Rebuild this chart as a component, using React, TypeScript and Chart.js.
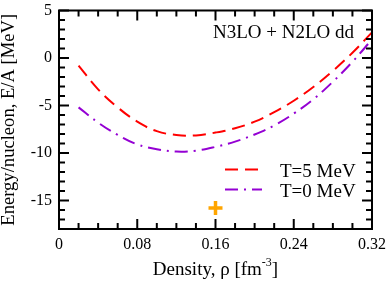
import React, { useEffect, useRef } from "react";
import { Chart, registerables } from "chart.js";
Chart.register(...registerables);

// ---- data ----
const densities = [0.02, 0.04, 0.06, 0.08, 0.1, 0.12, 0.14, 0.16, 0.18, 0.2, 0.22, 0.24, 0.26, 0.28, 0.3, 0.32];
const energyT5 = [-0.8, -3.3, -5.2, -6.7, -7.7, -8.1, -8.15, -7.85, -7.4, -6.7, -5.7, -4.5, -3.05, -1.35, 0.55, 2.7];
const energyT0 = [-5.2, -6.8, -8.1, -9.1, -9.6, -9.85, -9.75, -9.35, -8.8, -8.05, -7.1, -5.85, -4.35, -2.5, -0.4, 1.95];
const saturationDensity = [0.16];
const saturationEnergy = [-15.8];
const seriesLabels = ["T=5 MeV", "T=0 MeV"];
const annotationText = "N3LO + N2LO dd";
const xTickValues = [0, 0.08, 0.16, 0.24, 0.32];
const xTickLabels = ["0", "0.08", "0.16", "0.24", "0.32"];
const yTickValues = [5, 0, -5, -10, -15];
const yTickLabels = ["5", "0", "-5", "-10", "-15"];
const yTitle = "Energy/nucleon, E/A [MeV]";
const xTitleMain = "Density, \u03c1 [fm";
const xTitleSup = "-3";
const xTitleEnd = "]";

const X_MIN = 0, X_MAX = 0.32, X_MINOR = 0.02;
const Y_MIN = -18, Y_MAX = 5, Y_MINOR = 1;
const SERIF = '"Liberation Serif", "Times New Roman", serif';

const overlay = {
  id: "overlay",
  afterDraw(chart: any) {
    const { ctx, chartArea: a, scales } = chart;
    const xs = scales.x, ys = scales.y;
    ctx.save();
    ctx.strokeStyle = "#000";
    ctx.fillStyle = "#000";
    ctx.lineWidth = 2;
    ctx.setLineDash([]);
    const seg = (x1: number, y1: number, x2: number, y2: number) => {
      ctx.beginPath(); ctx.moveTo(x1, y1); ctx.lineTo(x2, y2); ctx.stroke();
    };
    // x ticks (inward, bottom & top)
    const nx = Math.round((X_MAX - X_MIN) / X_MINOR);
    for (let i = 0; i <= nx; i++) {
      const v = X_MIN + i * X_MINOR;
      const p = xs.getPixelForValue(v);
      const major = xTickValues.some((m) => Math.abs(m - v) < 1e-9);
      const len = major ? 10 : 6;
      seg(p, a.bottom, p, a.bottom - len);
      seg(p, a.top, p, a.top + len);
    }
    const ny = Math.round((Y_MAX - Y_MIN) / Y_MINOR);
    for (let i = 0; i <= ny; i++) {
      const v = Y_MIN + i * Y_MINOR;
      const p = ys.getPixelForValue(v);
      const major = yTickValues.some((m) => Math.abs(m - v) < 1e-9);
      const len = major ? 10 : 6;
      seg(a.left, p, a.left + len, p);
      seg(a.right, p, a.right - len, p);
    }
    ctx.strokeRect(a.left, a.top, a.right - a.left, a.bottom - a.top);

    // annotation
    ctx.font = `19px ${SERIF}`;
    ctx.textAlign = "left";
    ctx.textBaseline = "alphabetic";
    ctx.fillText(annotationText, a.right - 159, a.top + 27);

    // legend
    chart.data.datasets.slice(0, 2).forEach((ds: any, i: number) => {
      const y = a.top + 159 + i * 20;
      ctx.save();
      ctx.strokeStyle = ds.borderColor;
      ctx.lineWidth = 2;
      ctx.setLineDash(ds.borderDash || []);
      seg(a.right - 147, y, a.right - 110, y);
      ctx.restore();
      ctx.fillText(ds.label, a.right - 92, y + 7);
    });

    // y title
    ctx.save();
    ctx.font = `18.6px ${SERIF}`;
    ctx.translate(14, (a.top + a.bottom) / 2);
    ctx.rotate(-Math.PI / 2);
    ctx.textAlign = "center";
    ctx.fillText(yTitle, 0, 0);
    ctx.restore();

    // x title with superscript
    ctx.font = `19px ${SERIF}`;
    const w1 = ctx.measureText(xTitleMain).width;
    const w3 = ctx.measureText(xTitleEnd).width;
    ctx.font = `12px ${SERIF}`;
    const w2 = ctx.measureText(xTitleSup).width;
    const total = w1 + w2 + w3;
    let x = (a.left + a.right) / 2 - total / 2;
    const base = a.bottom + 46;
    ctx.textAlign = "left";
    ctx.font = `19px ${SERIF}`;
    ctx.fillText(xTitleMain, x, base);
    x += w1;
    ctx.font = `12px ${SERIF}`;
    ctx.fillText(xTitleSup, x, base - 9);
    x += w2;
    ctx.font = `19px ${SERIF}`;
    ctx.fillText(xTitleEnd, x, base);
    ctx.restore();
  },
};

export default function App() {
  const ref = useRef<HTMLCanvasElement>(null);
  useEffect(() => {
    document.body.style.margin = "0";
    const chart = new Chart(ref.current!, {
      type: "line",
      data: {
        datasets: [
          {
            label: seriesLabels[0],
            data: densities.map((d, i) => ({ x: d, y: energyT5[i] })),
            borderColor: "#ff0000",
            borderWidth: 2,
            borderDash: [13, 7],
            pointRadius: 0,
            tension: 0.4,
            fill: false,
          },
          {
            label: seriesLabels[1],
            data: densities.map((d, i) => ({ x: d, y: energyT0[i] })),
            borderColor: "#9400d3",
            borderWidth: 2,
            borderDash: [13, 6, 2, 6],
            pointRadius: 0,
            tension: 0.4,
            fill: false,
          },
          {
            label: "saturation",
            data: saturationDensity.map((d, i) => ({ x: d, y: saturationEnergy[i] })),
            showLine: false,
            pointStyle: "cross",
            pointRadius: 7,
            pointBorderWidth: 3.5,
            borderColor: "#ffa500",
            backgroundColor: "#ffa500",
          } as any,
        ],
      },
      options: {
        animation: false,
        responsive: false,
        maintainAspectRatio: false,
        layout: { padding: { top: 9, right: 18, left: 0, bottom: 0 } },
        plugins: { legend: { display: false }, tooltip: { enabled: false } },
        scales: {
          x: {
            type: "linear",
            min: X_MIN,
            max: X_MAX,
            grid: { display: false, drawTicks: false },
            border: { display: false },
            afterBuildTicks: (s: any) => { s.ticks = xTickValues.map((v) => ({ value: v })); },
            afterFit: (s: any) => { s.height = 55; s.paddingLeft = 0; s.paddingRight = 0; },
            ticks: {
              autoSkip: false,
              maxRotation: 0,
              padding: 6,
              color: "#000",
              font: { family: SERIF, size: 16 },
              callback: (_v: any, i: number) => xTickLabels[i],
            },
          },
          y: {
            type: "linear",
            min: Y_MIN,
            max: Y_MAX,
            grid: { display: false, drawTicks: false },
            border: { display: false },
            afterBuildTicks: (s: any) => { s.ticks = yTickValues.map((v) => ({ value: v })); },
            afterFit: (s: any) => { s.width = 59; s.paddingTop = 0; s.paddingBottom = 0; },
            ticks: {
              autoSkip: false,
              padding: 7,
              color: "#000",
              font: { family: SERIF, size: 16 },
              callback: (_v: any, i: number) => yTickLabels[i],
            },
          },
        },
      },
      plugins: [overlay],
    } as any);
    return () => chart.destroy();
  }, []);
  return (
    <div style={{ position: "absolute", left: 0, top: 0, width: 390, height: 284, background: "#fff" }}>
      <canvas ref={ref} width={390} height={284} style={{ width: 390, height: 284, display: "block" }} />
    </div>
  );
}
